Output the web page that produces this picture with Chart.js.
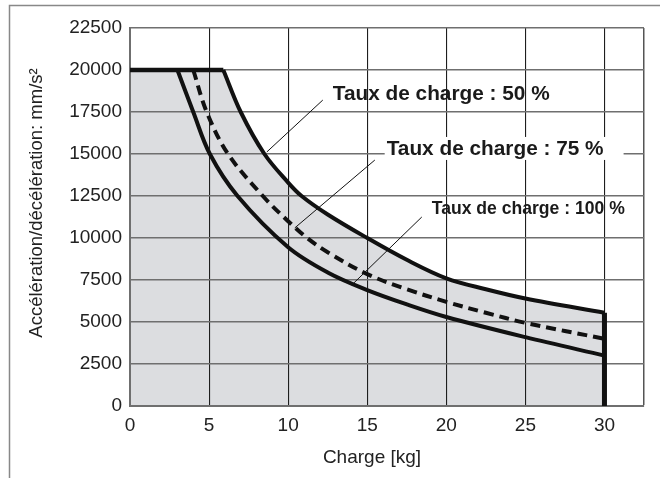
<!DOCTYPE html>
<html>
<head>
<meta charset="utf-8">
<script src="https://cdn.jsdelivr.net/npm/chart.js@4"></script>
<style>
  body { margin: 0; background: #fff; }
  #wrap { width: 660px; height: 478px; }
</style>
</head>
<body>
<div id="wrap"><canvas id="accelChart" width="660" height="478"></canvas></div>
<script>
// values (x = charge kg, y = mm/s²)
const xTicks = [0, 5, 10, 15, 20, 25, 30, 32.5];
const yTicks = [0, 2500, 5000, 7500, 10000, 12500, 15000, 17500, 20000, 22500];

const plateau = [[0, 20000], [5.9, 20000]];
const rate50 = [[5.9, 20000], [7, 17500], [8.5, 15000], [10, 13300], [10.85, 12500], [12.5, 11400], [15, 10000], [17.5, 8700], [20, 7600], [22.5, 6950], [25, 6400], [30, 5550]];
const rate75 = [[4, 20000], [4.85, 17500], [6.2, 15000], [8.4, 12500], [10, 11000], [11.2, 10000], [12.5, 9150], [15, 7850], [17.5, 6950], [20, 6200], [22.5, 5550], [25, 4950], [30, 4000]];
const rate100 = [[3, 20000], [4, 17500], [5.05, 15000], [6.8, 12500], [10, 9450], [12.5, 7950], [15, 6900], [17.5, 6050], [20, 5300], [25, 4100], [30, 3000]];
const edge = [[30, 5550], [30, 0]];

const labels = ['Taux de charge : 50 %', 'Taux de charge : 75 %', 'Taux de charge : 100 %'];

const pts = arr => arr.map(([x, y]) => ({ x, y }));
const fillGray = '#dcdde0';

// annotation placement (data coordinates)
const notes = [
  { text: labels[0], at: [12.82, 18630], from: [12.19, 18210], to: [8.65, 15120], size: 20.8, squeeze: 1 },
  { text: labels[1], at: [16.23, 15360], from: [15.48, 14640], to: [10.42, 10600], size: 20.8, squeeze: 1, box: true },
  { text: labels[2], at: [19.08, 11790], from: [18.45, 11250], to: [14.02, 7200], size: 18.5, squeeze: 0.95 }
];

const decor = {
  id: 'decor',
  afterDraw(chart) {
    const { ctx, scales: { x, y } } = chart;
    ctx.save();
    // outer frame
    ctx.strokeStyle = '#888';
    ctx.lineWidth = 1.5;
    ctx.beginPath();
    ctx.moveTo(9.5, 478);
    ctx.lineTo(9.5, 5.5);
    ctx.lineTo(660, 5.5);
    ctx.stroke();

    // axis titles
    ctx.fillStyle = '#222';
    ctx.textAlign = 'center';
    ctx.textBaseline = 'middle';
    ctx.font = '19px "Liberation Sans", Arial, sans-serif';
    ctx.fillText('Charge [kg]', 372, 458);
    ctx.save();
    ctx.translate(37, 203);
    ctx.rotate(-Math.PI / 2);
    ctx.font = '18.5px "Liberation Sans", Arial, sans-serif';
    ctx.fillText('Accélération/décélération: mm/s²', 0, 0);
    ctx.restore();

    // leader lines and labels
    notes.forEach(n => {
      const px = x.getPixelForValue(n.at[0]);
      const py = y.getPixelForValue(n.at[1]);
      ctx.font = 'bold ' + n.size + 'px "Liberation Sans", Arial, sans-serif';
      const w = ctx.measureText(n.text).width * n.squeeze;
      if (n.box) {
        ctx.fillStyle = '#fff';
        ctx.fillRect(px - 2, py - 11, w + 22, 23);
      }
      ctx.strokeStyle = '#111';
      ctx.lineWidth = 1;
      ctx.beginPath();
      ctx.moveTo(x.getPixelForValue(n.from[0]), y.getPixelForValue(n.from[1]));
      ctx.lineTo(x.getPixelForValue(n.to[0]), y.getPixelForValue(n.to[1]));
      ctx.stroke();
      ctx.fillStyle = '#1a1a1a';
      ctx.textAlign = 'left';
      ctx.save();
      ctx.translate(px, py);
      ctx.scale(n.squeeze, 1);
      ctx.fillText(n.text, 0, 1);
      ctx.restore();
    });
    ctx.restore();
  }
};

const lineBase = {
  borderColor: '#111',
  borderWidth: 4,
  pointRadius: 0,
  fill: false,
  tension: 0.35
};

new Chart(document.getElementById('accelChart').getContext('2d'), {
  type: 'line',
  data: {
    datasets: [
      // shaded envelope under the 50 % curve (one polygon, no seam)
      { data: pts(plateau.concat(rate50.slice(1))), borderWidth: 0, borderColor: 'transparent', pointRadius: 0, tension: 0, fill: 'origin', backgroundColor: fillGray },
      { ...lineBase, data: pts(plateau), borderWidth: 4.5, tension: 0 },
      { ...lineBase, data: pts(rate50) },
      { ...lineBase, data: pts(rate75), borderDash: [10, 6] },
      { ...lineBase, data: pts(rate100) },
      { ...lineBase, data: pts(edge), borderWidth: 5, tension: 0 }
    ]
  },
  options: {
    responsive: false,
    animation: false,
    layout: { padding: { left: 0, top: 28, right: 16, bottom: 0 } },
    plugins: {
      legend: { display: false },
      tooltip: { enabled: false },
      filler: { drawTime: 'beforeDraw' }
    },
    scales: {
      x: {
        type: 'linear',
        min: 0,
        max: 32.5,
        afterBuildTicks: s => { s.ticks = xTicks.map(v => ({ value: v })); },
        afterFit: s => { s.height = 72; },
        ticks: {
          padding: 8,
          color: '#222',
          font: { family: '"Liberation Sans", Arial, sans-serif', size: 19 },
          maxRotation: 0,
          callback: v => (v % 5 === 0 ? String(v) : '')
        },
        grid: {
          drawTicks: false,
          color: c => (c.tick && c.tick.value === 32.5 ? '#555' : '#1e1e1e'),
          lineWidth: c => (c.tick && c.tick.value === 32.5 ? 1.5 : 1.1)
        },
        border: { color: '#6f6f6f', width: 2 }
      },
      y: {
        type: 'linear',
        min: 0,
        max: 22500,
        afterBuildTicks: s => { s.ticks = yTicks.map(v => ({ value: v })); },
        afterFit: s => { s.width = 130; },
        ticks: {
          padding: 8,
          color: '#222',
          font: { family: '"Liberation Sans", Arial, sans-serif', size: 19 },
          callback: v => String(v)
        },
        grid: { drawTicks: false, color: '#6f6f6f', lineWidth: 1.5 },
        border: { color: '#6f6f6f', width: 2 }
      }
    }
  },
  plugins: [decor]
});
</script>
</body>
</html>
